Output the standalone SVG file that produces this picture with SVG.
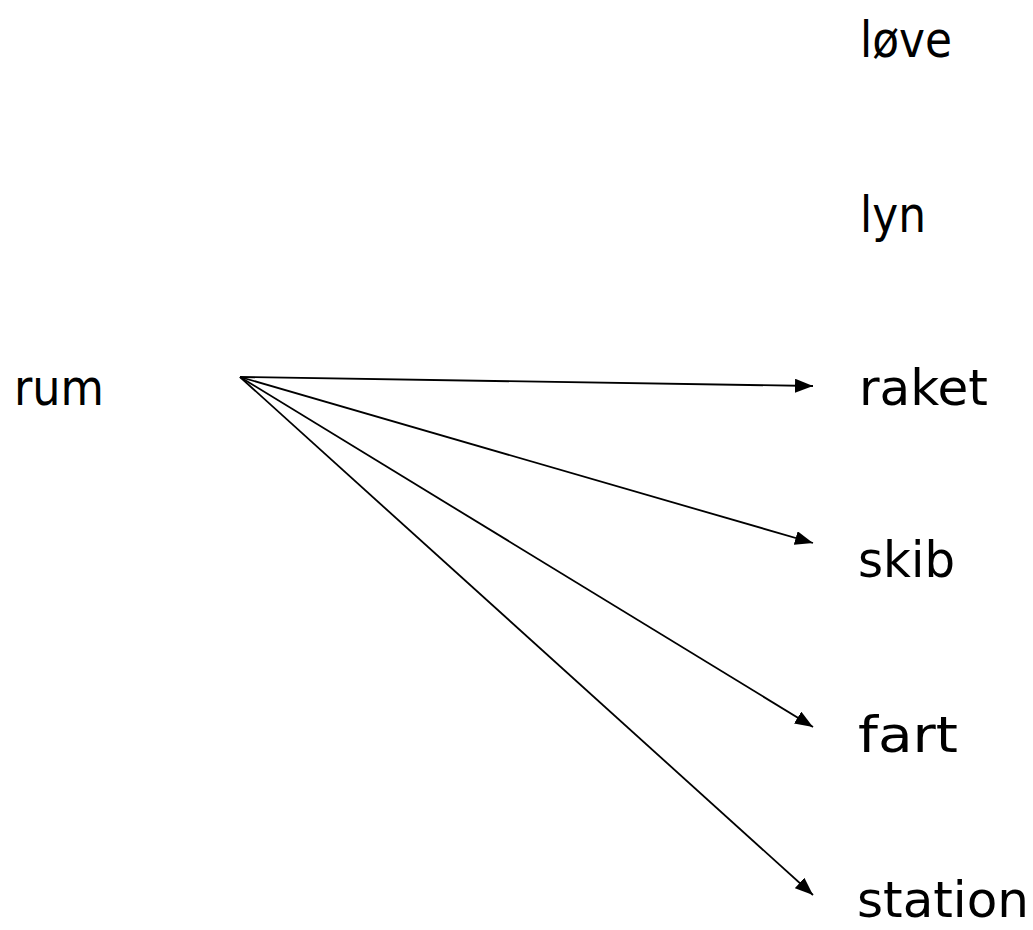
<svg xmlns="http://www.w3.org/2000/svg" width="1033" height="930" viewBox="0 0 1033 930">
<style>
text{font-family:"DejaVu Sans","Noto Sans",sans-serif;font-size:50px;fill:#000}
.c line{stroke:#000;stroke-width:1.8}
</style>
<defs>
<marker id="ah" markerUnits="userSpaceOnUse" markerWidth="20" markerHeight="14" refX="18" refY="7" orient="auto">
<path d="M0,0 L18,7 L0,14 Z" fill="#000"/>
</marker>
</defs>
<rect width="1033" height="930" fill="#fff"/>
<g class="c">
<line x1="240" y1="377" x2="813" y2="386" marker-end="url(#ah)"/>
<line x1="240" y1="377" x2="813" y2="543" marker-end="url(#ah)"/>
<line x1="240" y1="377" x2="813" y2="727" marker-end="url(#ah)"/>
<line x1="240" y1="377" x2="813" y2="895" marker-end="url(#ah)"/>
</g>
<g id="rum"><text x="14" y="405" textLength="90" lengthAdjust="spacingAndGlyphs">rum</text></g>
<g id="love"><text x="860" y="57" textLength="92" lengthAdjust="spacingAndGlyphs">løve</text></g>
<g id="lyn"><text x="860" y="232" textLength="66" lengthAdjust="spacingAndGlyphs">lyn</text></g>
<g id="raket"><text x="859" y="405" textLength="129" lengthAdjust="spacingAndGlyphs">raket</text></g>
<g id="skib"><text x="858" y="577" textLength="97" lengthAdjust="spacingAndGlyphs">skib</text></g>
<g id="fart"><text x="858" y="752" textLength="100" lengthAdjust="spacingAndGlyphs">fart</text></g>
<g id="station"><text x="857" y="917" textLength="172" lengthAdjust="spacingAndGlyphs">station</text></g>
</svg>
